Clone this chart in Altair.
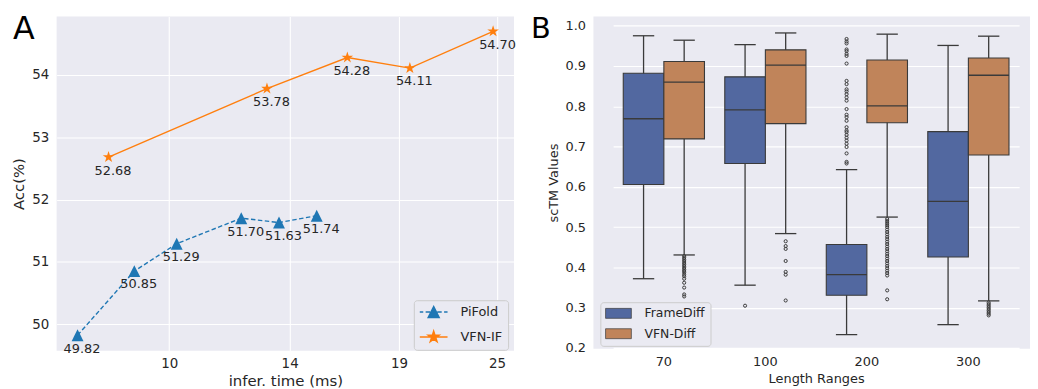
import altair as alt
import pandas as pd

# ---------------- Panel A data ----------------
pifold_time = [7.74, 9.07, 10.21, 12.23, 13.59, 15.10]
pifold_acc = [49.82, 50.85, 51.29, 51.70, 51.63, 51.74]
vfn_time = [8.44, 13.14, 16.45, 19.59, 24.72]
vfn_acc = [52.68, 53.78, 54.28, 54.11, 54.70]
time_ticks = [10, 14, 19, 25]
acc_ticks = [50, 51, 52, 53, 54]
series_names = ["PiFold", "VFN-IF"]
series_colors = ["#1f77b4", "#ff7f0e"]

# ---------------- Panel B data ----------------
lengths = ["70", "100", "200", "300"]
methods = ["FrameDiff", "VFN-Diff"]
method_colors = ["#5268a0", "#c0845a"]
fd_lo = [0.372, 0.356, 0.233, 0.258]
fd_q1 = [0.606, 0.658, 0.331, 0.426]
fd_med = [0.769, 0.791, 0.382, 0.564]
fd_q3 = [0.882, 0.873, 0.457, 0.737]
fd_hi = [0.975, 0.953, 0.643, 0.951]
vfn_lo = [0.431, 0.484, 0.525, 0.317]
vfn_q1 = [0.719, 0.757, 0.759, 0.679]
vfn_med = [0.860, 0.902, 0.801, 0.877]
vfn_q3 = [0.911, 0.940, 0.915, 0.920]
vfn_hi = [0.964, 0.982, 0.979, 0.974]
fd_out_100 = [0.305]
fd_out_200 = [0.967, 0.961, 0.956, 0.941, 0.937, 0.930, 0.925, 0.906, 0.863, 0.855,
              0.842, 0.837, 0.830, 0.822, 0.814, 0.793, 0.779, 0.773, 0.764, 0.748,
              0.740, 0.736, 0.729, 0.722, 0.715, 0.707, 0.699, 0.683, 0.662, 0.658]
vfn_out_70 = [0.428, 0.424, 0.420, 0.416, 0.411, 0.407, 0.403, 0.399, 0.395, 0.391,
              0.387, 0.382, 0.378, 0.372, 0.362, 0.350, 0.333, 0.328]
vfn_out_100 = [0.465, 0.453, 0.446, 0.416, 0.389, 0.382, 0.318]
vfn_out_200 = [0.520, 0.515, 0.510, 0.505, 0.500, 0.494, 0.488, 0.482, 0.476, 0.470,
               0.464, 0.458, 0.452, 0.446, 0.440, 0.434, 0.428, 0.422, 0.416, 0.410,
               0.404, 0.398, 0.392, 0.386, 0.380, 0.343, 0.321]
vfn_out_300 = [0.313, 0.309, 0.305, 0.301, 0.297, 0.293, 0.289, 0.285, 0.281]

TEXT = "#262626"
EDGE = "#3a3a3a"
FONT = "DejaVu Sans"

# marker shapes (unit square paths)
TRI = "M0,-1L1,1L-1,1Z"
STAR = ("M0,-1L0.2245,-0.309L0.951,-0.309L0.3633,0.118L0.588,0.809L0,0.382"
        "L-0.588,0.809L-0.3633,0.118L-0.951,-0.309L-0.2245,-0.309Z")
LEG_PI = ("M-2.33,0L-1.75,0M-1.35,0L-0.6,0M0.6,0L1.35,0M1.75,0L2.33,0"
          "M0,-0.92L0.92,0.92L-0.92,0.92Z")
LEG_VFN = ("M-2.33,0L2.33,0"
           "M0,-0.95L0.2133,-0.2936L0.9035,-0.2936L0.3451,0.1121L0.5586,0.7686L0,0.3629"
           "L-0.5586,0.7686L-0.3451,0.1121L-0.9035,-0.2936L-0.2133,-0.2936Z")
LEG_BOX = "M-2.6,-1L2.6,-1L2.6,1L-2.6,1Z"

# ---------------- Panel A ----------------
dfA = pd.DataFrame({
    "time": pifold_time + vfn_time,
    "acc": pifold_acc + vfn_acc,
    "series": ["PiFold"] * len(pifold_time) + ["VFN-IF"] * len(vfn_time),
})
dfA["label"] = dfA["acc"].map(lambda v: f"{v:.2f}")

xA = alt.X("time:Q",
           scale=alt.Scale(type="log", domain=[7.30, 26.21], nice=False, zero=False),
           axis=alt.Axis(values=time_ticks, format="d", title="infer. time (ms)",
                         labelFontSize=13.5, titleFontSize=15, labelPadding=6,
                         titlePadding=3, labelFlush=False))
yA = alt.Y("acc:Q",
           scale=alt.Scale(domain=[49.57, 54.94], nice=False, zero=False),
           axis=alt.Axis(values=acc_ticks, title="Acc(%)", labelFontSize=13.5,
                         titleFontSize=15, labelPadding=8, titlePadding=5))
legA_props = dict(title=None, orient="none", legendX=360, legendY=286,
                  symbolSize=144, symbolStrokeWidth=1.5, symbolOffset=8, labelOffset=20,
                  labelFontSize=13, labelColor=TEXT, padding=5, rowPadding=7,
                  fillColor="#eaeaf2", strokeColor="#cccccc", cornerRadius=3)
colA = alt.Color("series:N", scale=alt.Scale(domain=series_names, range=series_colors),
                 legend=alt.Legend(**legA_props))

baseA = alt.Chart(dfA)
line_pi = baseA.transform_filter(alt.datum.series == "PiFold").mark_line(
    strokeWidth=1.4, strokeDash=[4.5, 2.5]).encode(x=xA, y=yA, color=colA)
line_vfn = baseA.transform_filter(alt.datum.series == "VFN-IF").mark_line(
    strokeWidth=1.4).encode(x=xA, y=yA, color=colA)
pts_pi = baseA.transform_filter(alt.datum.series == "PiFold").mark_point(
    shape=TRI, filled=True, size=144, opacity=1, strokeWidth=0).encode(x=xA, y=yA, color=colA)
pts_vfn = baseA.transform_filter(alt.datum.series == "VFN-IF").mark_point(
    shape=STAR, filled=True, size=150, opacity=1, strokeWidth=0).encode(x=xA, y=yA, color=colA)
labelsA = baseA.mark_text(dx=4.5, dy=13.5, fontSize=13, color=TEXT, font=FONT).encode(
    x=xA, y=yA, text="label:N")
legend_layer = baseA.transform_filter("false").mark_point(filled=True, opacity=1, size=144).encode(
    x=xA, y=yA, color=colA,
    shape=alt.Shape("series:N", scale=alt.Scale(domain=series_names, range=[LEG_PI, LEG_VFN]),
                    legend=alt.Legend(**legA_props)),
)
letterA = alt.Chart(pd.DataFrame({"t": ["A"]})).mark_text(
    align="left", baseline="alphabetic", fontSize=32, font=FONT, color="black").encode(
    x=alt.value(-44), y=alt.value(23), text="t:N")

left = alt.layer(line_pi, line_vfn, pts_pi, pts_vfn, labelsA, legend_layer, letterA).properties(
    width=461, height=337)

# ---------------- Panel B ----------------
stats = pd.DataFrame({
    "length": lengths * 2,
    "method": ["FrameDiff"] * 4 + ["VFN-Diff"] * 4,
    "lo": fd_lo + vfn_lo,
    "q1": fd_q1 + vfn_q1,
    "med": fd_med + vfn_med,
    "q3": fd_q3 + vfn_q3,
    "hi": fd_hi + vfn_hi,
})
out_rows = []
for L, M, vals in [("100", "FrameDiff", fd_out_100), ("200", "FrameDiff", fd_out_200),
                   ("70", "VFN-Diff", vfn_out_70), ("100", "VFN-Diff", vfn_out_100),
                   ("200", "VFN-Diff", vfn_out_200), ("300", "VFN-Diff", vfn_out_300)]:
    for v in vals:
        out_rows.append({"length": L, "method": M, "value": v})
outdf = pd.DataFrame(out_rows)

xB = alt.X("length:N", sort=lengths,
           scale=alt.Scale(domain=lengths, paddingInner=0, paddingOuter=0,
                           range=[19.85, 429.05]),
           axis=alt.Axis(title="Length Ranges", labelAngle=0, grid=False, labelFontSize=13,
                         titleFontSize=13, labelPadding=7, titlePadding=4))
xoB = alt.XOffset("method:N", sort=methods,
                  scale=alt.Scale(domain=methods, paddingInner=0, paddingOuter=0.25))
yscaleB = alt.Scale(domain=[0.198, 1.023], nice=False, zero=False)
yaxB = alt.Axis(values=[0.2, 0.3, 0.4, 0.5, 0.6, 0.7, 0.8, 0.9, 1.0], format=".1f",
                title="scTM Values", labelFontSize=13, titleFontSize=13, labelPadding=8,
                titlePadding=5)

whisk = alt.Chart(stats).mark_rule(color=EDGE, strokeWidth=1.3).encode(
    x=xB, xOffset=xoB, y=alt.Y("lo:Q", scale=yscaleB, axis=yaxB), y2="hi:Q")
cap_lo = alt.Chart(stats).mark_tick(color=EDGE, size=21.5, thickness=1.3,
                                    orient="horizontal", opacity=1).encode(
    x=xB, xOffset=xoB, y=alt.Y("lo:Q", scale=yscaleB))
cap_hi = alt.Chart(stats).mark_tick(color=EDGE, size=21.5, thickness=1.3,
                                    orient="horizontal", opacity=1).encode(
    x=xB, xOffset=xoB, y=alt.Y("hi:Q", scale=yscaleB))
boxes = alt.Chart(stats).mark_bar(stroke=EDGE, strokeWidth=1.1, opacity=1).encode(
    x=xB, xOffset=xoB, y=alt.Y("q1:Q", scale=yscaleB), y2="q3:Q",
    fill=alt.Fill("method:N", scale=alt.Scale(domain=methods, range=method_colors),
                  legend=alt.Legend(title=None, orient="none", legendX=7, legendY=288,
                                    symbolType=LEG_BOX, symbolSize=100, symbolOffset=7,
                                    labelOffset=20, symbolStrokeColor=EDGE,
                                    symbolStrokeWidth=0.7, labelFontSize=12.5,
                                    labelColor=TEXT, padding=5, rowPadding=6.5,
                                    fillColor="#eaeaf2", strokeColor="#cccccc",
                                    cornerRadius=3)))
med = alt.Chart(stats).mark_tick(color=EDGE, size=41, thickness=1.3,
                                 orient="horizontal", opacity=1).encode(
    x=xB, xOffset=xoB, y=alt.Y("med:Q", scale=yscaleB))
fliers = alt.Chart(outdf).mark_point(shape="circle", filled=False, size=10, strokeWidth=1,
                                     color=EDGE, opacity=1).encode(
    x=xB, xOffset=xoB, y=alt.Y("value:Q", scale=yscaleB))
letterB = alt.Chart(pd.DataFrame({"t": ["B"]})).mark_text(
    align="left", baseline="alphabetic", fontSize=29, font=FONT, color="black").encode(
    x=alt.value(-63), y=alt.value(21.7), text="t:N")

right = alt.layer(whisk, cap_lo, cap_hi, boxes, med, fliers, letterB).properties(
    width=440, height=335)

chart = alt.hconcat(left, right, spacing=80, bounds="flush").resolve_scale(
    color="independent", fill="independent", shape="independent"
).resolve_legend(
    color="independent", fill="independent", shape="independent"
).properties(
    padding={"left": 3, "top": 4, "right": 0, "bottom": 0},
    background="white",
).configure(font=FONT).configure_view(stroke=None, fill="#eaeaf2").configure_axis(
    domain=False, ticks=False, gridColor="white", gridWidth=1.1, labelColor=TEXT,
    titleColor=TEXT, titleFontWeight="normal", labelFont=FONT, titleFont=FONT,
).configure_legend(labelFont=FONT)

chart.save("out.html", embed_options={"renderer": "svg", "actions": False})
